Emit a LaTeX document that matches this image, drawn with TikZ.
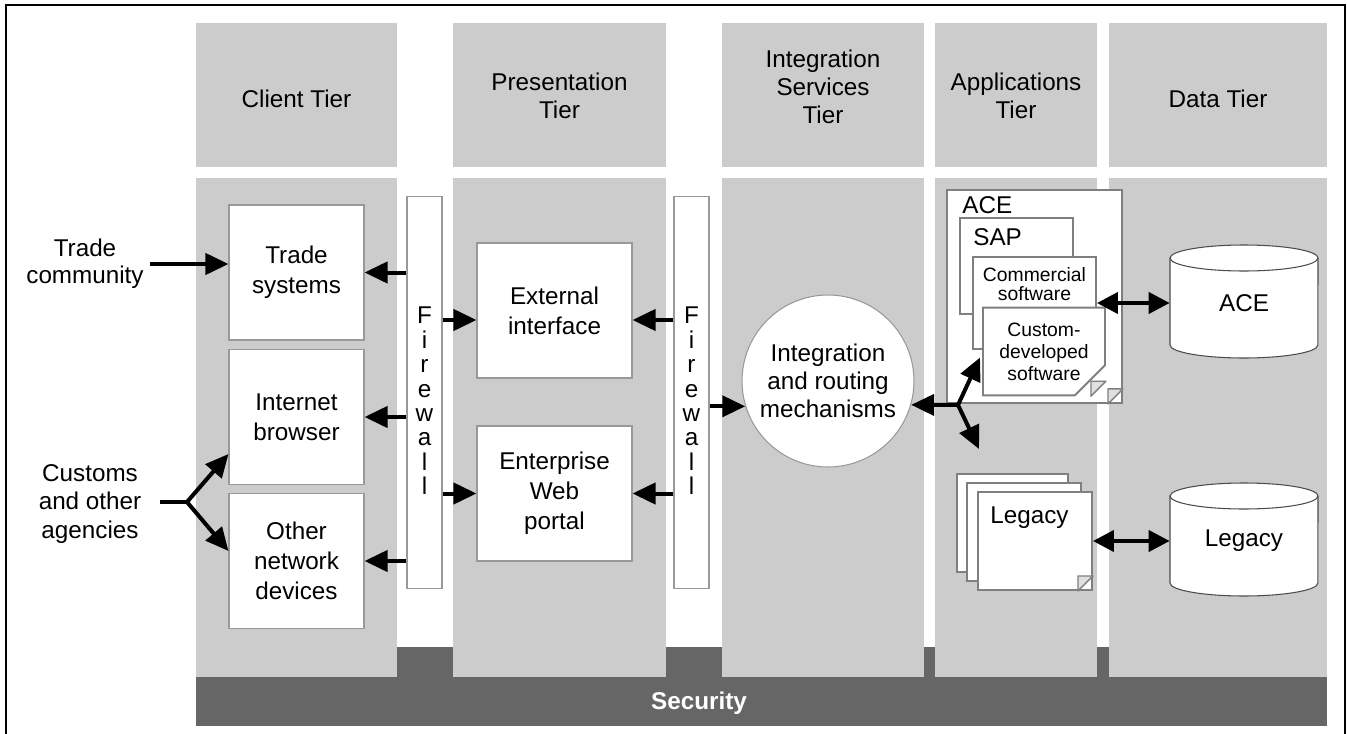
\documentclass[tikz,border=0pt]{standalone}
\usepackage{fontspec}
\setmainfont{Liberation Sans}
\usetikzlibrary{arrows.meta,calc,shapes.misc}

\definecolor{tiergray}{HTML}{CCCCCC}
\definecolor{secgray}{HTML}{666666}
\definecolor{boxgray}{HTML}{999999}
\definecolor{pagegray}{HTML}{7F7F7F}

\tikzset{
  panel/.style={fill=tiergray, draw=none, inner sep=0pt},
  tierhead/.style={panel, minimum height=2.88cm},
  headtext/.style={align=center, font=\fontsize{13.8}{15.9}\selectfont},
  tierbody/.style={panel, minimum height=9.98cm},
  secbar/.style={fill=secgray, draw=none, inner sep=0pt, minimum width=22.62cm, minimum height=1.58cm},
  box/.style={draw=boxgray, fill=white, line width=0.6pt, align=center, inner sep=0pt,
    minimum width=2.7cm, minimum height=2.7cm},
  wall/.style={draw=boxgray, fill=white, line width=0.6pt, inner sep=0pt,
    minimum width=0.7cm, minimum height=7.86cm},
  walltext/.style={align=center, font=\fontsize{13.8}{13.9}\selectfont},
  page/.style={draw=pagegray, fill=white, line width=1.1pt, inner sep=0pt},
  dogpage/.style={page, chamfered rectangle, chamfered rectangle corners=south east,
    chamfered rectangle sep=0.3cm},
  fold/.style={draw=pagegray, fill=black!12, line width=0.8pt, line join=round},
  small/.style={font=\fontsize{11}{12.5}\selectfont, align=center},
  dbline/.style={draw=black!70, fill=white, line width=0.6pt},
  arr/.style={line width=0.08cm, -{Triangle[length=0.46cm, width=0.42cm]}},
  darr/.style={line width=0.08cm, {Triangle[length=0.42cm, width=0.42cm]}-{Triangle[length=0.42cm, width=0.42cm]}},
  stem/.style={line width=0.08cm},
}

% folded corner of a page node
\newcommand{\dogear}[1]{%
  \coordinate (#1c) at (#1.south -| #1.east);
  \filldraw[fold] ([xshift=-0.3cm]#1c) -- ([yshift=0.3cm]#1c) -- ([shift={(-0.3cm,0.3cm)}]#1c) -- cycle;}

% database cylinder, corners in px
\newcommand{\dbcyl}[4]{%
  \filldraw[dbline] (#1,#2+13) -- (#1,#4-13)
    arc[start angle=180, end angle=360, x radius={(#3-#1)*0.01cm}, y radius=0.26cm]
    -- (#3,#2+13)
    arc[start angle=0, end angle=180, x radius={(#3-#1)*0.01cm}, y radius=0.26cm] -- cycle;
  \draw[dbline, fill=none] (#1,#2+13)
    arc[start angle=180, end angle=360, x radius={(#3-#1)*0.01cm}, y radius=0.26cm];}

\begin{document}
\begin{tikzpicture}[x=0.02cm, y=-0.02cm, font=\fontsize{13.8}{17}\selectfont]
\useasboundingbox (0,0) rectangle (1347,734);

% frame
\draw[line width=1.2pt] (6,734) -- (6,5) -- (1345,5) -- (1345,734);

% tier headers
\node[tierhead, minimum width=4.02cm] (hClient) at (296.5,95) {};
\node[tierhead, minimum width=4.26cm] (hPres) at (559.5,95) {};
\node[tierhead, minimum width=4.04cm] (hInteg) at (823,95) {};
\node[tierhead, minimum width=3.24cm] (hApps) at (1016,95) {};
\node[tierhead, minimum width=4.36cm] (hData) at (1218,95) {};
\node[headtext] (tClient) at (296.5,99) {Client Tier};
\node[headtext] (tPres) at (559.5,96) {Presentation\\Tier};
\node[headtext] (tInteg) at (823,87) {Integration\\Services\\Tier};
\node[headtext] (tApps) at (1016,96) {Applications\\Tier};
\node[headtext] (tData) at (1218,99) {Data Tier};

% security band
\node[secbar] (sec) at (761.5,686.5) {};
\node[text=white, font=\fontsize{13.8}{17}\selectfont\bfseries] (tSec) at (699,703) {Security};

% tier bodies
\node[tierbody, minimum width=4.02cm] (bClient) at (296.5,427.5) {};
\node[tierbody, minimum width=4.26cm] (bPres) at (559.5,427.5) {};
\node[tierbody, minimum width=4.04cm] (bInteg) at (823,427.5) {};
\node[tierbody, minimum width=3.24cm] (bApps) at (1016,427.5) {};
\node[tierbody, minimum width=4.36cm] (bData) at (1218,427.5) {};

% outside users
\node[align=center, font=\fontsize{13.8}{15.5}\selectfont] (trade) at (85,264) {Trade\\community};
\node[align=center, font=\fontsize{13.8}{16.3}\selectfont] (cust) at (90,504) {Customs\\and other\\agencies};

% client tier
\node[box] (ts) at (296.5,272.5) {Trade\\systems};
\node[box] (ib) at (296.5,417) {Internet\\browser};
\node[box] (ond) at (296.5,561) {Other\\network\\devices};

% firewalls
\node[wall] (fw1) at (424.5,392.5) {};
\node[walltext] (fw1t) at (424.5,401) {F\\i\\r\\e\\w\\a\\l\\l};
\node[wall] (fw2) at (691.5,392.5) {};
\node[walltext] (fw2t) at (691.5,401) {F\\i\\r\\e\\w\\a\\l\\l};

% presentation tier
\node[box, minimum width=3.1cm] (ext) at (554.5,310.5) {External\\interface};
\node[box, minimum width=3.1cm] (ewp) at (554.5,493.5) {Enterprise\\Web\\portal};

% integration
\node[circle, draw=boxgray, fill=white, line width=0.6pt, minimum size=3.44cm, inner sep=0pt,
  align=center, font=\fontsize{13.8}{15.8}\selectfont] (integ) at (828,381)
  {Integration\\and routing\\mechanisms};

% applications: ACE stack
\node[dogpage, minimum width=3.5cm, minimum height=4.26cm] (pACE) at (1034.5,296.5) {};
\dogear{pACE}
\node[anchor=base west, inner sep=0pt] (tACE) at (962,213) {ACE};
\node[page, minimum width=2.26cm, minimum height=1.92cm] (pSAP) at (1016.5,266) {};
\node[anchor=base west, inner sep=0pt] (tSAP) at (973,245) {SAP};
\node[page, minimum width=2.46cm, minimum height=1.84cm] (pCom) at (1034.5,303) {};
\node[small, font=\fontsize{11}{10.5}\selectfont] (tCom) at (1034.5,284) {Commercial\\software};
\node[dogpage, small, minimum width=2.44cm, minimum height=1.66cm] (pCus) at (1044,351.5)
  {Custom-\\developed\\software};
\dogear{pCus}

% applications: legacy stack
\node[page, minimum width=2.22cm, minimum height=1.96cm] (lg1) at (1012.5,523) {};
\node[page, minimum width=2.28cm, minimum height=1.96cm] (lg2) at (1024,532) {};
\node[dogpage, minimum width=2.28cm, minimum height=1.96cm] (lg3) at (1035,541) {};
\dogear{lg3}
\node[anchor=base west, inner sep=0pt] (tLeg) at (990,523) {Legacy};

% data tier
\dbcyl{1170}{245}{1318}{358}
\node[minimum width=2.96cm, minimum height=2.26cm, inner sep=0pt] (dbAce) at (1244,303) {ACE};
\dbcyl{1170}{483}{1318}{596}
\node[minimum width=2.96cm, minimum height=2.26cm, inner sep=0pt] (dbLeg) at (1244,541) {Legacy};

% connectors
\draw[arr] (trade.east) -- (trade.east -| ts.west);
\coordinate (custJ) at (187,502);
\draw[stem] ([xshift=0.25cm]cust.east |- custJ) -- (custJ);
\draw[arr] (custJ) -- ($(ib.south west)+(0,-31)$);
\draw[arr] (custJ) -- ($(ond.north west)+(0,58)$);

\draw[arr] (fw1.west |- ts.east) -- (ts.east);
\draw[arr] (fw1.west |- ib.east) -- (ib.east);
\draw[arr] (fw1.west |- ond.east) -- (ond.east);
\coordinate (extL) at ([yshift=-0.19cm]ext.west);
\coordinate (extR) at ([yshift=-0.19cm]ext.east);
\draw[arr] (fw1.east |- extL) -- (extL);
\draw[arr] (fw1.east |- ewp.west) -- (ewp.west);
\draw[arr] (fw2.west |- extR) -- (extR);
\draw[arr] (fw2.west |- ewp.east) -- (ewp.east);
\draw[arr] (fw2.east |- integ.197.6) -- (integ.197.6);

\coordinate (intJ) at (958,405);
\coordinate (cusTip) at ($(pCus.west)+(-2,6)$);
\coordinate (legTip) at ($(lg1.north west)+(23,-24)$);
\draw[arr] (intJ) -- (integ.-16);
\draw[arr] (intJ) -- (cusTip);
\draw[arr] (intJ) -- (legTip);

\draw[darr] (pCom.east) -- (pCom.east -| dbAce.west);
\draw[darr] (lg3.east) -- (lg3.east -| dbLeg.west);
\end{tikzpicture}
\end{document}
